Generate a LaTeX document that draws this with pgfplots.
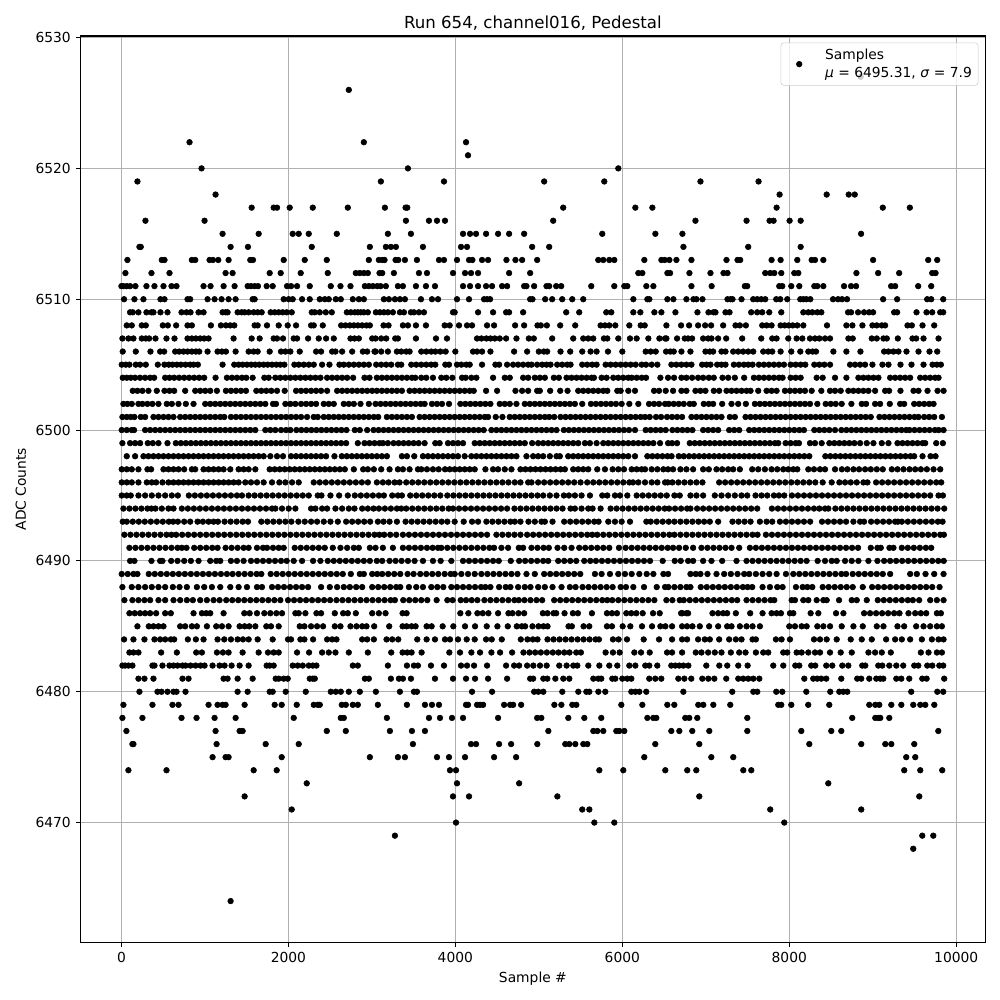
\documentclass[border=0pt]{standalone}
\usepackage{fontspec}
\setmainfont{DejaVu Sans}
\usepackage{pgfplots}
\pgfplotsset{compat=1.18}
\definecolor{gridc}{HTML}{B0B0B0}
\pgfplotsset{table/row sep=crcr,table/header=false,table/x index=0}
% one line per ADC level: level, then the sample numbers
\newcommand\row[2]{\addplot[only marks,mark=*,mark size=2.05pt,black,forget plot] table[y expr=#1]{#2};}
\begin{document}
\begin{tikzpicture}
\useasboundingbox (0,0) rectangle (10in,10in);
\begin{axis}[
  at={(0.805in,0.577in)},anchor=south west,
  width=9.048in,height=9.063in,scale only axis,
  xmin=-490,xmax=10348,ymin=6460.85,ymax=6530.12,
  xtick={0,2000,4000,6000,8000,10000},
  ytick={6470,6480,6490,6500,6510,6520,6530},
  scaled x ticks=false,scaled y ticks=false,
  /pgf/number format/assume math mode=true,
  /pgf/number format/1000 sep={},
  grid=major,
  grid style={gridc,line width=0.8pt},
  axis line style={line width=0.8pt},
  tick style={black,line width=0.8pt},
  tick align=outside,tick pos=left,
  major tick length=3.5pt,
  ticklabel style={font=\fontsize{10}{12}\selectfont},
  xlabel={Sample \#},ylabel={ADC Counts},
  label style={font=\fontsize{10}{12}\selectfont},
  title={Run 654, channel016, Pedestal},
  title style={font=\fontsize{12}{14}\selectfont,yshift=-5.5pt},
  legend cell align=left,
  legend style={at={(axis description cs:0.9923,0.9926)},anchor=north east,
    fill opacity=0.8,draw opacity=1,text opacity=1,draw=black!20,rounded corners=2pt,
    font=\fontsize{10}{12}\selectfont,inner sep=2.5pt},
  legend image code/.code={
    \path (0pt,0pt) (27pt,0pt);
    \draw[#1,fill opacity=1,draw opacity=1] plot coordinates {(10.5pt,0pt)};
  },
]
\row{6527}{8856\\}
\row{6526}{2724\\}
\row{6522}{816\\2904\\4128\\}
\row{6521}{4152\\}
\row{6520}{960\\3432\\5952\\}
\row{6519}{192\\3108\\3864\\5064\\5784\\6936\\7632\\}
\row{6518}{1128\\7884\\8448\\8712\\8784\\}
\row{6517}{1560\\1824\\1864\\2016\\2292\\2712\\3156\\3404\\3424\\5292\\6156\\6360\\7848\\9120\\9444\\}
\row{6516}{288\\996\\3408\\3684\\3780\\3876\\5172\\6876\\7488\\7764\\7812\\8004\\8136\\}
\row{6515}{1212\\1644\\2052\\2124\\2244\\2580\\3192\\3468\\4092\\4176\\4248\\4368\\4512\\4644\\4824\\5760\\6396\\6720\\8860\\}
\row{6514}{216\\232\\1308\\1516\\2280\\2976\\3168\\3228\\3288\\3612\\4068\\4140\\4920\\5124\\6732\\7508\\8136\\}
\row{6513}{72\\484\\516\\844\\884\\1056\\1096\\1160\\1284\\1544\\1576\\1944\\2196\\2460\\2964\\3084\\3124\\3152\\3284\\3316\\3396\\3540\\3804\\3864\\4020\\4164\\4204\\4320\\4392\\4612\\4720\\4800\\4980\\5712\\5772\\5844\\5904\\6264\\6468\\6508\\6564\\6648\\6828\\7248\\7380\\7412\\7788\\7896\\8096\\8268\\8308\\8408\\9004\\9664\\9772\\}
\row{6512}{48\\360\\576\\1248\\1332\\1776\\1908\\2148\\2472\\2808\\2856\\2904\\2952\\3092\\3124\\3264\\3564\\3660\\3972\\4116\\4188\\4272\\4644\\4896\\6192\\6240\\6540\\6572\\6804\\7056\\7212\\7260\\7712\\7772\\7820\\7904\\8060\\8108\\8804\\9064\\9316\\9712\\9752\\}
\row{6511}{0\\24\\64\\104\\168\\300\\396\\504\\600\\660\\984\\1068\\1224\\1356\\1512\\1552\\1596\\1636\\1740\\1812\\1984\\2032\\2104\\2256\\2508\\2624\\2744\\2916\\2964\\3012\\3064\\3104\\3168\\3312\\3372\\3528\\3648\\3756\\4092\\4176\\4272\\4368\\4440\\4560\\4620\\4824\\4852\\4944\\5092\\5124\\5208\\5268\\5628\\5904\\6024\\6060\\6288\\6372\\6828\\7070\\7468\\7496\\7880\\7916\\8024\\8120\\8300\\8336\\8408\\8656\\8740\\8800\\9220\\9268\\9544\\9700\\}
\row{6510}{32\\156\\264\\468\\516\\792\\824\\1032\\1116\\1200\\1284\\1368\\1572\\1596\\1944\\2004\\2052\\2164\\2256\\2376\\2436\\2484\\2568\\2628\\2772\\2844\\2904\\3144\\3204\\3276\\3336\\3396\\3588\\3720\\3792\\4020\\4164\\4344\\4380\\4416\\4896\\4924\\5076\\5160\\5280\\5400\\5532\\6132\\6300\\6324\\6540\\6612\\6768\\6852\\6888\\6960\\7260\\7296\\7320\\7428\\7568\\7616\\7664\\7712\\7844\\7892\\7976\\8132\\8168\\8204\\8252\\8524\\8584\\8632\\8692\\9124\\9292\\9652\\9700\\9844\\}
\row{6509}{104\\136\\204\\300\\360\\384\\468\\552\\720\\780\\828\\924\\984\\1212\\1248\\1272\\1392\\1440\\1476\\1524\\1584\\1632\\1680\\1788\\1836\\1884\\1932\\1980\\2040\\2280\\2316\\2376\\2448\\2520\\2700\\2748\\2796\\2832\\2868\\2904\\2952\\3048\\3096\\3144\\3192\\3252\\3336\\3384\\3468\\3504\\3564\\3624\\3972\\3992\\4272\\4452\\4608\\4644\\4812\\5328\\5484\\5808\\5868\\6132\\6216\\6384\\6468\\6636\\6900\\7032\\7092\\7116\\7236\\7284\\7544\\7616\\7676\\7760\\7904\\8168\\8228\\8276\\8336\\8384\\8704\\8740\\8824\\8896\\8956\\9004\\9256\\9292\\9524\\9644\\9712\\9808\\9844\\}
\row{6508}{64\\124\\244\\292\\496\\556\\656\\792\\844\\1072\\1192\\1252\\1304\\1352\\1596\\1632\\1744\\1884\\1992\\2092\\2272\\2304\\2412\\2632\\2684\\2736\\2784\\2832\\2884\\2936\\2976\\3140\\3200\\3372\\3432\\3528\\3648\\3872\\3932\\4044\\4140\\4200\\4380\\4464\\4716\\4824\\4984\\5024\\5096\\5256\\5436\\5740\\5792\\5844\\5916\\6084\\6220\\6268\\6528\\6704\\6800\\6908\\6992\\7064\\7208\\7356\\7408\\7480\\7676\\7728\\7788\\7896\\7944\\7992\\8040\\8096\\8168\\8452\\8684\\8756\\8876\\8996\\9048\\9108\\9148\\9416\\9468\\9596\\9736\\}
\row{6507}{12\\84\\144\\244\\292\\332\\408\\540\\636\\792\\844\\892\\944\\992\\1044\\1344\\1560\\1656\\1824\\1864\\1936\\2064\\2104\\2236\\2364\\2452\\2544\\2744\\2792\\2844\\3004\\3044\\3112\\3172\\3280\\3312\\3528\\3768\\3900\\4260\\4312\\4372\\4420\\4472\\4532\\4608\\4732\\4880\\4940\\5160\\5412\\5532\\5592\\5652\\5780\\5820\\5952\\6092\\6172\\6312\\6444\\6512\\6528\\6656\\6748\\6788\\6836\\6968\\7028\\7068\\7148\\7244\\7436\\7664\\7796\\7848\\7988\\8088\\8156\\8248\\8308\\8360\\8428\\8488\\8708\\8760\\8988\\9048\\9128\\9168\\9300\\9476\\9520\\9608\\9788\\}
\row{6506}{16\\172\\348\\464\\512\\644\\692\\744\\792\\844\\892\\932\\1032\\1152\\1204\\1252\\1368\\1524\\1584\\1632\\1776\\1912\\1964\\2024\\2136\\2332\\2392\\2524\\2564\\2644\\2764\\2892\\2944\\3044\\3032\\3112\\3192\\3300\\3352\\3412\\3452\\3592\\3652\\3712\\3760\\3820\\3884\\4000\\4212\\4260\\4320\\4420\\4704\\4860\\5000\\5060\\5100\\5260\\5376\\5520\\5620\\5692\\5828\\6000\\6280\\6340\\6400\\6524\\6576\\6616\\6708\\6816\\6996\\7048\\7088\\7188\\7236\\7328\\7388\\7448\\7508\\7568\\7688\\7748\\7796\\7896\\8024\\8132\\8228\\8280\\8320\\8528\\8684\\8852\\9136\\9188\\9248\\9308\\9404\\9548\\9680\\9772\\}
\row{6505}{4\\52\\96\\172\\224\\292\\436\\516\\568\\612\\664\\712\\768\\824\\864\\916\\1212\\1352\\1404\\1452\\1504\\1556\\1604\\1652\\1704\\1752\\1804\\1856\\1904\\1952\\2072\\2124\\2184\\2244\\2304\\2404\\2492\\2612\\2664\\2724\\2784\\2844\\2904\\2964\\3052\\3112\\3172\\3232\\3312\\3352\\3472\\3532\\3592\\3652\\3712\\3760\\3880\\3924\\4020\\4072\\4132\\4172\\4320\\4480\\4524\\4620\\4692\\4752\\4812\\4872\\4912\\4980\\5040\\5092\\5140\\5220\\5280\\5340\\5380\\5520\\5580\\5640\\5692\\5800\\5860\\5920\\5980\\6040\\6100\\6160\\6232\\6284\\6352\\6420\\6588\\6648\\6708\\6768\\6828\\6956\\7008\\7056\\7136\\7188\\7236\\7336\\7396\\7456\\7508\\7560\\7636\\7696\\7756\\7816\\7876\\7936\\8016\\8076\\8136\\8192\\8300\\8360\\8420\\8488\\8728\\8788\\8848\\8908\\8996\\9116\\9188\\9332\\9464\\9608\\9716\\9768\\9816\\}
\row{6504}{16\\64\\112\\164\\224\\284\\344\\392\\524\\576\\632\\692\\752\\812\\872\\932\\992\\1128\\1264\\1324\\1384\\1444\\1496\\1572\\1712\\1764\\1844\\1904\\1964\\2024\\2084\\2144\\2204\\2264\\2324\\2384\\2464\\2524\\2584\\2644\\2704\\2776\\2912\\2972\\3060\\3120\\3180\\3240\\3300\\3360\\3420\\3480\\3520\\3592\\3652\\3732\\3832\\3892\\3964\\4080\\4124\\4192\\4252\\4452\\4592\\4652\\4812\\4872\\4952\\5012\\5072\\5180\\5240\\5332\\5392\\5452\\5512\\5572\\5632\\5660\\5752\\5812\\5892\\5952\\6012\\6072\\6112\\6172\\6232\\6284\\6456\\6548\\6620\\6708\\6768\\6836\\6908\\6968\\7036\\7096\\7200\\7268\\7348\\7460\\7576\\7636\\7696\\7756\\7816\\7876\\7920\\8016\\8076\\8136\\8328\\8400\\8548\\8684\\8828\\8888\\8948\\9008\\9068\\9208\\9268\\9328\\9388\\9448\\9568\\9628\\9688\\9748\\9788\\}
\row{6503}{136\\192\\252\\324\\424\\516\\576\\632\\764\\884\\944\\1004\\1064\\1144\\1252\\1312\\1372\\1432\\1492\\1616\\1676\\1736\\1796\\1864\\1956\\2092\\2152\\2212\\2272\\2332\\2392\\2464\\2584\\2644\\2704\\2764\\2824\\2884\\2944\\3004\\3060\\3120\\3180\\3240\\3300\\3360\\3452\\3512\\3572\\3632\\3692\\3752\\3812\\3872\\3932\\3992\\4052\\4112\\4172\\4220\\4368\\4500\\4720\\4800\\4872\\4980\\5012\\5136\\5256\\5344\\5472\\5532\\5592\\5652\\5712\\5772\\5820\\5940\\5980\\6072\\6152\\6380\\6440\\6520\\6608\\6708\\6768\\6876\\6936\\6996\\7096\\7160\\7248\\7308\\7368\\7428\\7488\\7536\\7628\\7728\\7788\\7848\\7948\\8008\\8068\\8128\\8188\\8268\\8384\\8488\\8548\\8616\\8708\\8768\\8828\\8888\\8948\\9028\\9148\\9196\\9332\\9488\\9548\\9656\\9776\\9848\\}
\row{6502}{24\\72\\124\\204\\252\\312\\372\\444\\544\\604\\684\\772\\864\\1004\\1064\\1124\\1184\\1244\\1304\\1364\\1424\\1484\\1544\\1604\\1664\\1724\\1816\\1852\\1964\\2024\\2084\\2152\\2212\\2272\\2332\\2424\\2484\\2544\\2664\\2724\\2784\\2864\\2964\\3044\\3104\\3164\\3224\\3284\\3344\\3404\\3464\\3524\\3584\\3632\\3720\\3780\\3840\\3924\\4060\\4120\\4180\\4240\\4300\\4360\\4420\\4532\\4592\\4652\\4732\\4832\\4892\\4952\\5012\\5072\\5132\\5192\\5252\\5312\\5372\\5432\\5520\\5624\\5684\\5744\\5804\\5864\\5924\\5992\\6084\\6192\\6320\\6380\\6440\\6512\\6556\\6616\\6676\\6736\\6808\\6856\\6976\\7036\\7088\\7196\\7308\\7388\\7480\\7588\\7648\\7708\\7768\\7828\\7888\\7948\\8008\\8068\\8128\\8188\\8248\\8336\\8436\\8496\\8556\\8628\\8744\\8868\\8920\\9028\\9088\\9204\\9328\\9376\\9496\\9556\\9616\\9676\\9728\\}
\row{6501}{12\\64\\112\\156\\232\\284\\384\\444\\504\\564\\624\\704\\764\\824\\884\\944\\1004\\1064\\1124\\1184\\1232\\1312\\1372\\1432\\1492\\1552\\1612\\1672\\1732\\1792\\1852\\1912\\1972\\2032\\2092\\2152\\2224\\2304\\2352\\2424\\2484\\2544\\2604\\2664\\2724\\2784\\2844\\2904\\2964\\3024\\3076\\3180\\3240\\3300\\3360\\3420\\3480\\3572\\3632\\3692\\3752\\3812\\3872\\3932\\3992\\4052\\4112\\4172\\4232\\4292\\4352\\4392\\4484\\4564\\4652\\4712\\4772\\4832\\4892\\4952\\5012\\5072\\5124\\5184\\5260\\5320\\5380\\5440\\5500\\5560\\5620\\5680\\5740\\5800\\5860\\5920\\5980\\6040\\6100\\6160\\6220\\6272\\6328\\6404\\6464\\6536\\6596\\6656\\6716\\6828\\6888\\6948\\7008\\7068\\7128\\7188\\7288\\7348\\7476\\7536\\7596\\7656\\7716\\7776\\7836\\7896\\7956\\8016\\8076\\8136\\8196\\8256\\8316\\8376\\8436\\8496\\8556\\8616\\8676\\8736\\8796\\8856\\8916\\8976\\9080\\9140\\9200\\9260\\9320\\9380\\9440\\9500\\9548\\9616\\9676\\9736\\9828\\}
\row{6500}{4\\64\\124\\152\\284\\344\\404\\464\\524\\584\\644\\704\\764\\824\\884\\944\\1004\\1064\\1124\\1184\\1244\\1304\\1364\\1424\\1484\\1544\\1604\\1724\\1784\\1844\\1912\\1972\\2024\\2096\\2156\\2216\\2276\\2336\\2396\\2456\\2516\\2576\\2636\\2696\\2796\\2856\\2944\\3020\\3080\\3140\\3200\\3260\\3320\\3380\\3440\\3500\\3560\\3620\\3680\\3740\\3800\\3860\\3920\\3980\\4040\\4100\\4160\\4220\\4280\\4340\\4432\\4492\\4552\\4612\\4672\\4732\\4792\\4852\\4912\\4972\\5032\\5092\\5152\\5212\\5300\\5360\\5420\\5480\\5540\\5600\\5660\\5720\\5780\\5840\\5900\\5960\\6020\\6080\\6152\\6280\\6340\\6400\\6460\\6520\\6600\\6660\\6720\\6780\\6840\\6968\\7028\\7088\\7148\\7280\\7340\\7400\\7520\\7580\\7640\\7700\\7760\\7820\\7880\\7940\\8000\\8060\\8120\\8176\\8300\\8360\\8420\\8480\\8548\\8624\\8684\\8744\\8804\\8864\\8924\\8984\\9044\\9104\\9164\\9224\\9284\\9344\\9400\\9440\\9500\\9560\\9620\\9680\\9744\\9790\\9848\\}
\row{6499}{12\\104\\164\\224\\316\\376\\444\\552\\652\\712\\772\\832\\892\\952\\1012\\1072\\1132\\1192\\1252\\1312\\1372\\1432\\1492\\1552\\1612\\1672\\1732\\1792\\1852\\1912\\1972\\2032\\2092\\2152\\2212\\2272\\2332\\2392\\2452\\2512\\2572\\2632\\2692\\2832\\2912\\2972\\3032\\3092\\3132\\3192\\3260\\3320\\3380\\3440\\3500\\3560\\3632\\3760\\3812\\3912\\3972\\4032\\4092\\4232\\4292\\4352\\4412\\4472\\4532\\4592\\4652\\4712\\4772\\4832\\4920\\4992\\5052\\5112\\5172\\5232\\5292\\5352\\5412\\5472\\5552\\5612\\5692\\5772\\5832\\5892\\5952\\6012\\6072\\6132\\6192\\6252\\6312\\6372\\6452\\6548\\6596\\6656\\6808\\6868\\6928\\6988\\7048\\7108\\7168\\7228\\7288\\7348\\7408\\7468\\7528\\7588\\7648\\7708\\7768\\7828\\7868\\7956\\8016\\8076\\8116\\8248\\8308\\8388\\8480\\8540\\8600\\8660\\8720\\8780\\8848\\8928\\9008\\9108\\9188\\9296\\9356\\9416\\9476\\9536\\9596\\9628\\9760\\9840\\}
\row{6498}{64\\164\\264\\324\\384\\444\\504\\564\\624\\684\\744\\804\\864\\924\\984\\1044\\1104\\1164\\1224\\1284\\1344\\1404\\1464\\1524\\1584\\1644\\1704\\1784\\1864\\1936\\2032\\2092\\2152\\2212\\2272\\2332\\2392\\2452\\2552\\2640\\2700\\2760\\2820\\2880\\2940\\3000\\3060\\3120\\3180\\3360\\3420\\3508\\3612\\3672\\3732\\3792\\3852\\3912\\3972\\4032\\4112\\4192\\4252\\4312\\4372\\4432\\4492\\4552\\4612\\4672\\4732\\4852\\4932\\4992\\5052\\5132\\5212\\5252\\5352\\5412\\5472\\5532\\5592\\5652\\5712\\5772\\5832\\5892\\5952\\6012\\6072\\6152\\6300\\6360\\6420\\6480\\6540\\6590\\6676\\6736\\6800\\6860\\6920\\6980\\7040\\7100\\7160\\7220\\7280\\7340\\7400\\7460\\7520\\7580\\7640\\7700\\7760\\7820\\7880\\7940\\8000\\8060\\8120\\8180\\8240\\8432\\8492\\8552\\8612\\8672\\8732\\8792\\8852\\8912\\8972\\9032\\9092\\9152\\9212\\9272\\9332\\9392\\9452\\9496\\9596\\9692\\9752\\}
\row{6497}{4\\64\\124\\204\\312\\356\\504\\564\\624\\684\\752\\844\\884\\984\\1044\\1104\\1164\\1224\\1304\\1404\\1464\\1524\\1604\\1776\\1836\\1896\\1956\\2016\\2076\\2136\\2196\\2256\\2316\\2376\\2436\\2496\\2556\\2616\\2676\\2784\\2896\\2952\\3024\\3112\\3212\\3312\\3372\\3452\\3552\\3592\\3660\\3732\\3800\\3876\\3932\\3992\\4052\\4112\\4172\\4232\\4360\\4452\\4512\\4592\\4672\\4780\\4840\\4900\\4960\\5020\\5080\\5140\\5200\\5260\\5312\\5412\\5472\\5532\\5592\\5700\\5792\\5884\\5952\\6020\\6112\\6172\\6232\\6272\\6352\\6420\\6492\\6548\\6608\\6696\\6768\\6848\\6968\\7036\\7128\\7196\\7268\\7328\\7408\\7556\\7628\\7708\\7788\\7856\\7928\\7988\\8048\\8096\\8228\\8296\\8368\\8428\\8548\\8630\\8696\\8768\\8836\\8908\\8976\\9048\\9120\\9228\\9296\\9368\\9440\\9508\\9576\\9648\\9728\\9808\\}
\row{6496}{4\\64\\124\\204\\304\\364\\416\\492\\564\\624\\684\\744\\804\\864\\924\\984\\1044\\1104\\1164\\1224\\1284\\1344\\1404\\1484\\1552\\1624\\1704\\1804\\1892\\1964\\2044\\2124\\2304\\2376\\2448\\2520\\2592\\2664\\2736\\2808\\2880\\2952\\3060\\3132\\3200\\3272\\3332\\3412\\3484\\3556\\3628\\3700\\3772\\3844\\3916\\3988\\4060\\4132\\4204\\4276\\4348\\4420\\4492\\4564\\4636\\4712\\4780\\4872\\4912\\4992\\5064\\5136\\5208\\5280\\5352\\5424\\5500\\5580\\5652\\5724\\5796\\5868\\5940\\6012\\6084\\6128\\6192\\6272\\6352\\6420\\6512\\6544\\6600\\6672\\6744\\6816\\6888\\6960\\7160\\7232\\7304\\7376\\7448\\7520\\7592\\7664\\7736\\7808\\7880\\7952\\8024\\8096\\8168\\8240\\8312\\8400\\8508\\8600\\8668\\8736\\8808\\8888\\8936\\9040\\9112\\9184\\9256\\9328\\9400\\9472\\9544\\9616\\9688\\9760\\9820\\}
\row{6495}{4\\64\\112\\204\\284\\364\\444\\524\\604\\676\\808\\880\\952\\1024\\1096\\1168\\1240\\1312\\1384\\1444\\1524\\1596\\1668\\1740\\1812\\1884\\1956\\2028\\2100\\2172\\2244\\2352\\2396\\2504\\2608\\2712\\2796\\2868\\2940\\3012\\3084\\3144\\3244\\3312\\3360\\3460\\3532\\3604\\3676\\3748\\3820\\3904\\3976\\4048\\4120\\4192\\4264\\4336\\4408\\4480\\4552\\4624\\4696\\4768\\4840\\4912\\4984\\5052\\5132\\5212\\5300\\5360\\5432\\5512\\5612\\5760\\5820\\5912\\5972\\6060\\6172\\6244\\6316\\6388\\6460\\6532\\6624\\6688\\6816\\6888\\6968\\7108\\7188\\7268\\7348\\7428\\7496\\7596\\7668\\7736\\7816\\7876\\7940\\8032\\8104\\8176\\8248\\8320\\8392\\8464\\8536\\8608\\8680\\8752\\8824\\8896\\8968\\9040\\9112\\9184\\9256\\9328\\9400\\9472\\9544\\9616\\9688\\9788\\9840\\}
\row{6494}{24\\96\\168\\240\\312\\360\\408\\484\\564\\624\\724\\796\\868\\940\\1012\\1084\\1156\\1228\\1300\\1372\\1444\\1516\\1588\\1660\\1732\\1804\\1844\\1924\\2004\\2084\\2272\\2324\\2404\\2464\\2564\\2644\\2724\\2792\\2884\\2952\\3020\\3084\\3156\\3228\\3300\\3352\\3412\\3484\\3556\\3628\\3700\\3772\\3844\\3920\\3972\\4044\\4116\\4188\\4260\\4332\\4404\\4476\\4548\\4620\\4708\\4780\\4852\\4924\\4996\\5068\\5140\\5212\\5284\\5380\\5432\\5512\\5592\\5644\\5740\\5860\\5932\\6004\\6076\\6148\\6220\\6292\\6364\\6436\\6508\\6560\\6632\\6704\\6776\\6816\\6896\\6968\\7040\\7112\\7184\\7256\\7328\\7400\\7472\\7544\\7616\\7792\\7864\\7936\\8008\\8080\\8152\\8224\\8296\\8360\\8428\\8468\\8552\\8624\\8696\\8768\\8840\\8912\\8984\\9056\\9128\\9200\\9272\\9344\\9416\\9488\\9560\\9632\\9704\\9776\\9856\\}
\row{6493}{16\\64\\136\\208\\280\\352\\424\\496\\568\\620\\676\\752\\824\\912\\976\\1044\\1104\\1156\\1236\\1308\\1380\\1452\\1516\\1676\\1748\\1820\\1892\\1964\\2036\\2120\\2196\\2272\\2344\\2424\\2504\\2592\\2692\\2764\\2836\\2908\\2980\\3072\\3140\\3212\\3300\\3404\\3476\\3548\\3620\\3692\\3764\\3836\\3904\\3992\\4100\\4200\\4272\\4372\\4444\\4516\\4588\\4660\\4712\\4780\\4876\\4952\\5032\\5072\\5164\\5304\\5376\\5448\\5520\\5592\\5664\\5716\\5832\\5912\\5992\\6092\\6288\\6340\\6412\\6484\\6556\\6624\\6696\\6768\\6840\\6912\\6980\\7048\\7148\\7320\\7392\\7464\\7536\\7648\\7728\\7796\\7888\\7960\\8032\\8104\\8176\\8250\\8392\\8464\\8536\\8608\\8680\\8768\\8848\\8896\\8980\\9052\\9124\\9196\\9268\\9300\\9348\\9420\\9492\\9564\\9636\\9708\\9780\\9836\\}
\row{6492}{36\\108\\180\\252\\324\\396\\468\\540\\600\\656\\728\\800\\872\\944\\1016\\1088\\1160\\1232\\1304\\1376\\1448\\1520\\1592\\1664\\1736\\1808\\1880\\1952\\2024\\2096\\2168\\2240\\2312\\2384\\2456\\2528\\2600\\2672\\2744\\2816\\2888\\2960\\3032\\3090\\3148\\3220\\3292\\3372\\3444\\3516\\3588\\3660\\3732\\3804\\3876\\3948\\4020\\4092\\4164\\4236\\4308\\4380\\4492\\4564\\4636\\4708\\4780\\4860\\4932\\5004\\5076\\5148\\5220\\5292\\5364\\5436\\5508\\5580\\5640\\5700\\5772\\5844\\5916\\5988\\6060\\6132\\6204\\6276\\6348\\6420\\6492\\6564\\6624\\6696\\6768\\6840\\6912\\6984\\7056\\7128\\7200\\7272\\7344\\7416\\7488\\7560\\7620\\7720\\7792\\7864\\7936\\8008\\8080\\8152\\8224\\8296\\8368\\8440\\8512\\8584\\8656\\8728\\8800\\8872\\8944\\9016\\9088\\9160\\9232\\9304\\9376\\9448\\9520\\9592\\9664\\9736\\9808\\9852\\}
\row{6491}{96\\168\\240\\312\\384\\456\\528\\600\\672\\724\\780\\872\\944\\1016\\1088\\1152\\1248\\1320\\1392\\1464\\1524\\1624\\1696\\1744\\1816\\1884\\1944\\2076\\2148\\2220\\2292\\2364\\2436\\2532\\2624\\2704\\2784\\2844\\2976\\3044\\3132\\3252\\3372\\3444\\3516\\3588\\3660\\3728\\3792\\3832\\3904\\3976\\4048\\4120\\4192\\4264\\4336\\4408\\4464\\4552\\4632\\4760\\4812\\4912\\4984\\5056\\5120\\5224\\5304\\5392\\5484\\5556\\5628\\5700\\5772\\5844\\5960\\6040\\6112\\6184\\6256\\6328\\6400\\6472\\6544\\6608\\6680\\6760\\6848\\6948\\7020\\7092\\7164\\7236\\7308\\7400\\7528\\7600\\7672\\7744\\7816\\7888\\7960\\8032\\8104\\8176\\8248\\8320\\8392\\8464\\8536\\8608\\8680\\8752\\8824\\8976\\9056\\9096\\9200\\9248\\9348\\9420\\9492\\9564\\9636\\9700\\}
\row{6490}{104\\156\\360\\464\\492\\596\\672\\752\\832\\924\\1064\\1136\\1184\\1312\\1384\\1464\\1552\\1624\\1696\\1768\\1840\\1912\\1980\\2064\\2164\\2296\\2384\\2472\\2544\\2616\\2688\\2760\\2832\\2904\\2976\\3060\\3124\\3212\\3284\\3356\\3432\\3512\\3612\\3732\\3824\\3952\\4092\\4164\\4236\\4308\\4380\\4452\\4520\\4664\\4764\\4836\\4908\\4980\\5052\\5112\\5232\\5304\\5376\\5448\\5544\\5616\\5684\\5756\\5828\\5900\\5972\\6044\\6116\\6188\\6260\\6332\\6484\\6628\\6700\\6788\\6848\\6968\\7068\\7196\\7368\\7488\\7560\\7632\\7704\\7776\\7848\\7920\\7992\\8064\\8136\\8208\\8340\\8428\\8508\\8568\\8668\\8748\\8828\\8948\\9056\\9136\\9208\\9280\\9352\\9424\\9496\\9568\\9640\\9712\\9784\\9850\\}
\row{6489}{4\\76\\144\\192\\328\\400\\472\\544\\616\\688\\760\\832\\904\\976\\1048\\1120\\1192\\1264\\1332\\1404\\1476\\1548\\1620\\1676\\1788\\1860\\1932\\2004\\2076\\2148\\2220\\2292\\2364\\2436\\2508\\2580\\2652\\2748\\2856\\2904\\3004\\3064\\3124\\3196\\3268\\3340\\3428\\3500\\3580\\3652\\3724\\3796\\3872\\3944\\3992\\4072\\4152\\4232\\4312\\4384\\4456\\4528\\4600\\4672\\4744\\4852\\4952\\5064\\5136\\5208\\5280\\5352\\5424\\5496\\5672\\5752\\5852\\5952\\6032\\6112\\6204\\6292\\6372\\6492\\6548\\6816\\6880\\6936\\7020\\7128\\7220\\7300\\7380\\7460\\7520\\7600\\7680\\7760\\7848\\7960\\8048\\8120\\8192\\8264\\8336\\8408\\8480\\8552\\8624\\8680\\8760\\8832\\8904\\8976\\9048\\9120\\9208\\9448\\9528\\9632\\9736\\9848\\}
\row{6488}{12\\124\\204\\284\\364\\444\\524\\616\\696\\784\\904\\992\\1084\\1184\\1304\\1404\\1504\\1624\\1684\\1804\\1876\\1948\\2020\\2092\\2164\\2236\\2392\\2496\\2584\\2664\\2736\\2812\\2884\\3004\\3076\\3148\\3220\\3292\\3340\\3444\\3532\\3612\\3712\\3784\\3856\\3952\\4020\\4092\\4164\\4236\\4308\\4360\\4420\\4524\\4604\\4660\\4752\\4832\\4900\\4992\\5072\\5164\\5272\\5372\\5440\\5524\\5596\\5668\\5740\\5812\\5884\\5980\\6044\\6132\\6260\\6412\\6512\\6552\\6624\\6696\\6768\\6816\\6940\\7012\\7084\\7156\\7228\\7300\\7372\\7444\\7500\\7556\\7680\\7768\\7856\\7920\\8080\\8160\\8216\\8276\\8400\\8472\\8544\\8616\\8688\\8760\\8880\\8992\\9064\\9136\\9208\\9280\\9352\\9424\\9496\\9568\\9640\\9712\\9800\\}
\row{6487}{36\\132\\204\\276\\344\\444\\524\\624\\704\\784\\856\\944\\1024\\1104\\1176\\1256\\1328\\1400\\1472\\1544\\1616\\1688\\1760\\1832\\1904\\1996\\2068\\2140\\2212\\2284\\2356\\2428\\2500\\2576\\2648\\2720\\2792\\2864\\2936\\3008\\3080\\3152\\3224\\3276\\3376\\3448\\3520\\3592\\3664\\3776\\3904\\3968\\4064\\4128\\4196\\4264\\4348\\4420\\4492\\4564\\4636\\4708\\4760\\4828\\4900\\4972\\5040\\5184\\5256\\5328\\5400\\5472\\5544\\5616\\5688\\5760\\5820\\5880\\5952\\6024\\6096\\6168\\6240\\6312\\6384\\6528\\6600\\6688\\6736\\6808\\6880\\6952\\7024\\7096\\7168\\7240\\7312\\7376\\7488\\7560\\7632\\7704\\7776\\7820\\8028\\8068\\8168\\8228\\8328\\8408\\8448\\8596\\8748\\8808\\8928\\9060\\9132\\9204\\9276\\9348\\9420\\9480\\9556\\9688\\9768\\9848\\}
\row{6486}{96\\160\\224\\284\\344\\416\\524\\592\\864\\964\\1016\\1064\\1224\\1472\\1536\\1624\\1712\\1784\\1856\\1924\\2084\\2124\\2204\\2336\\2392\\2556\\2656\\2712\\2808\\3004\\3084\\3164\\3368\\3416\\4060\\4156\\4264\\4328\\4396\\4512\\4636\\4684\\4756\\4824\\5048\\5104\\5176\\5208\\5308\\5408\\5468\\5636\\5816\\5876\\5936\\6048\\6108\\6168\\6244\\6368\\6448\\6704\\6768\\6720\\6788\\7080\\7148\\7208\\7256\\7360\\7532\\7680\\7788\\7848\\7900\\8008\\8048\\8256\\8348\\8560\\8648\\8896\\8968\\9040\\9112\\9184\\9256\\9320\\9428\\9508\\9576\\9640\\9768\\9816\\}
\row{6485}{192\\328\\384\\444\\504\\704\\764\\844\\904\\1024\\1136\\1204\\1284\\1416\\1476\\1532\\1604\\1736\\1792\\1884\\2136\\2192\\2272\\2344\\2416\\2556\\2624\\2744\\2816\\2884\\2936\\3028\\3208\\3368\\3416\\3476\\3524\\3656\\3716\\3848\\3976\\4116\\4236\\4376\\4504\\4628\\4736\\4796\\4836\\4924\\4996\\5056\\5104\\5356\\5396\\5536\\5604\\5816\\5876\\6004\\6096\\6236\\6356\\6456\\6516\\6596\\6716\\6776\\6840\\6928\\7040\\7148\\7256\\7308\\7408\\7488\\7560\\7648\\8000\\8068\\8148\\8208\\8336\\8408\\8488\\8628\\8768\\8880\\9048\\9128\\9296\\9376\\9520\\9608\\9688\\9768\\9828\\}
\row{6484}{32\\144\\276\\396\\464\\524\\592\\632\\796\\892\\984\\1152\\1232\\1312\\1392\\1456\\1524\\1632\\1812\\1996\\2032\\2144\\2192\\2296\\2464\\2524\\2576\\2884\\2944\\3024\\3176\\3244\\3316\\3544\\3656\\3756\\3876\\3936\\4032\\4136\\4232\\4368\\4436\\4556\\4784\\4864\\4928\\4984\\5104\\5176\\5248\\5320\\5392\\5464\\5536\\5608\\5680\\5720\\5888\\5956\\6056\\6256\\6440\\6596\\6716\\6776\\6908\\6988\\7048\\7160\\7280\\7360\\7428\\7560\\7600\\7840\\7908\\8008\\8296\\8368\\8448\\8568\\8736\\8868\\8988\\9160\\9268\\9348\\9448\\9588\\9708\\9788\\9848\\}
\row{6483}{96\\144\\204\\476\\664\\896\\964\\1144\\1216\\1284\\1452\\1644\\1756\\1824\\1884\\2104\\2248\\2404\\2484\\2564\\2724\\2952\\3232\\3368\\3424\\3476\\3596\\3928\\4056\\4192\\4296\\4432\\4536\\4680\\4816\\4888\\4956\\5024\\5096\\5168\\5236\\5304\\5368\\5448\\5504\\5800\\5888\\5968\\6144\\6224\\6328\\6536\\6596\\6716\\6880\\6948\\7028\\7108\\7188\\7300\\7400\\7476\\7600\\7688\\7748\\7928\\7976\\8088\\8148\\8228\\8308\\8368\\8488\\8616\\8748\\8948\\9028\\9108\\9216\\9576\\9668\\9768\\9828\\}
\row{6482}{12\\44\\84\\132\\372\\396\\492\\576\\624\\672\\732\\768\\828\\888\\948\\996\\1092\\1176\\1236\\1320\\1416\\1524\\1740\\1776\\1824\\2052\\2112\\2172\\2244\\2292\\2336\\2772\\2832\\3192\\3420\\3504\\3552\\3708\\3864\\4068\\4140\\4224\\4380\\4608\\4704\\4764\\4860\\4934\\5014\\5094\\5245\\5333\\5413\\5461\\5593\\5725\\5844\\5940\\6084\\6156\\6275\\6323\\6419\\6587\\6635\\6683\\6731\\6791\\7006\\7162\\7257\\7389\\7501\\7808\\7928\\8072\\8120\\8263\\8311\\8443\\8515\\8635\\8707\\8874\\8910\\9066\\9114\\9198\\9282\\9365\\9497\\9545\\9653\\9713\\9797\\9844\\}
\row{6481}{204\\276\\384\\732\\804\\1224\\1272\\1392\\1572\\1848\\1884\\1944\\1992\\2256\\2292\\2316\\2916\\2964\\3228\\3324\\3372\\3468\\3756\\3972\\4128\\4236\\4392\\4620\\4896\\4932\\5054\\5102\\5198\\5293\\5365\\5653\\5713\\5748\\5880\\5916\\6000\\6060\\6108\\6323\\6395\\6467\\6671\\6743\\6826\\6958\\7030\\7102\\7245\\7389\\7449\\7509\\7569\\7641\\8180\\8287\\8335\\8383\\8443\\8623\\8814\\8862\\8958\\9042\\9090\\9126\\9282\\9342\\9437\\9593\\9645\\9856\\}
\row{6480}{216\\432\\480\\552\\624\\660\\768\\1392\\1512\\1776\\1812\\1968\\2208\\2508\\2568\\2628\\2724\\2856\\3048\\3336\\3504\\3540\\4200\\4440\\4944\\4994\\5054\\5281\\5473\\5569\\5605\\5713\\5796\\6108\\6156\\6204\\6287\\6731\\7317\\7569\\7617\\7844\\7916\\8204\\8491\\8599\\8647\\8695\\9461\\9773\\9844\\}
\row{6479}{24\\372\\612\\684\\1044\\1152\\1212\\1248\\1476\\1836\\1920\\2100\\2304\\2352\\2376\\2640\\2688\\2772\\2832\\3072\\3420\\3636\\3720\\3804\\4128\\4152\\4260\\4296\\4332\\4584\\4656\\4692\\4788\\5186\\5270\\5401\\5449\\5988\\6240\\6539\\6623\\6910\\6970\\7090\\7293\\7868\\7904\\8024\\8227\\8479\\8958\\9030\\9078\\9222\\9342\\9485\\9569\\9629\\9737\\}
\row{6478}{12\\252\\720\\900\\1116\\1368\\2064\\2628\\2664\\3180\\3684\\3816\\3960\\4092\\4512\\4980\\5030\\5353\\5545\\5748\\6300\\6371\\6407\\6754\\6802\\6898\\7497\\8754\\9030\\9066\\9090\\9198\\}
\row{6477}{60\\1128\\1416\\1452\\2460\\2688\\3216\\3480\\3636\\5114\\5653\\5701\\5772\\5928\\5964\\6024\\6587\\6683\\6838\\7042\\7497\\8144\\8503\\8623\\9785\\}
\row{6476}{132\\144\\1140\\1728\\2124\\3492\\4188\\4248\\4524\\4668\\4982\\5317\\5365\\5437\\5533\\5581\\6395\\6922\\8240\\8862\\9150\\9222\\9497\\}
\row{6475}{1092\\1248\\1284\\1920\\2976\\3312\\3396\\3780\\3924\\4116\\4464\\4728\\6263\\7066\\7329\\9401\\9509\\}
\row{6474}{84\\540\\1584\\1860\\3936\\4008\\5725\\6012\\6515\\6778\\6886\\7449\\7545\\9377\\9569\\9832\\}
\row{6473}{2220\\4020\\4764\\8467\\}
\row{6472}{1476\\3972\\4164\\5222\\6922\\9557\\}
\row{6471}{2040\\5520\\5605\\7772\\8862\\}
\row{6470}{4008\\5665\\5904\\7940\\}
\row{6469}{3276\\9593\\9725\\}
\row{6468}{9485\\}
\row{6464}{1308\\}
\addlegendimage{only marks,mark=*,mark size=2.05pt,black}
\addlegendentry{\shortstack[l]{Samples\\\textit{μ} = 6495.31, \textit{σ} = 7.9}}
\end{axis}
\end{tikzpicture}
\end{document}
